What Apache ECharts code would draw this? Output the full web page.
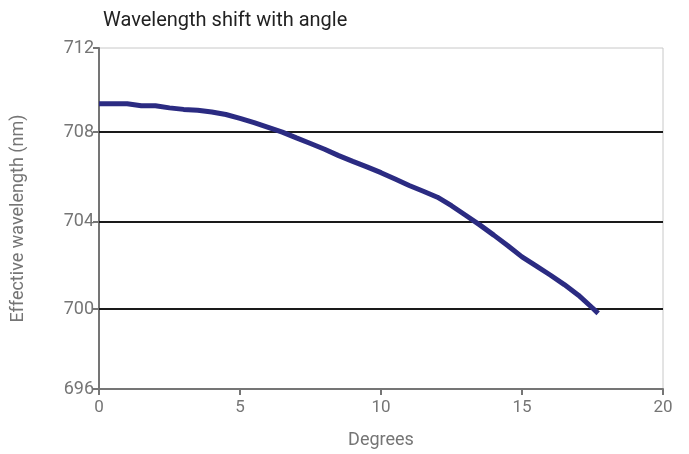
<!DOCTYPE html>
<html>
<head>
<meta charset="utf-8">
<script src="https://cdn.jsdelivr.net/npm/echarts@6/dist/echarts.min.js"></script>
<style>html,body{margin:0;padding:0;background:#fff}#c{width:689px;height:454px}</style>
</head>
<body>
<div id="c"></div>
<script>
var degrees = [0, 0.5, 1, 1.5, 2, 2.5, 3, 3.5, 4, 4.5, 5, 5.5, 6, 6.5, 7, 7.5, 8, 8.5, 9, 9.5, 10, 10.5, 11, 11.5, 12, 12.5, 13, 13.5, 14, 14.5, 15, 15.5, 16, 16.5, 17, 17.5, 17.7];
var wavelength = [709.38, 709.38, 709.38, 709.29, 709.29, 709.19, 709.12, 709.08, 709.0, 708.88, 708.7, 708.5, 708.28, 708.05, 707.78, 707.52, 707.25, 706.95, 706.68, 706.42, 706.15, 705.85, 705.55, 705.28, 705.0, 704.6, 704.15, 703.7, 703.22, 702.72, 702.2, 701.78, 701.35, 700.9, 700.4, 699.8, 699.55];
var yTickValues = [696, 699.75, 703.86, 708.05, 712];
var yTickLabels = ['696', '700', '704', '708', '712'];
var gridValues = [699.75, 703.86, 708.05];

var chart = echarts.init(document.getElementById('c'), null, {renderer: 'canvas'});
var font = 'Roboto';
chart.setOption({
  animation: false,
  title: {
    text: 'Wavelength shift with angle',
    left: 98, top: 6,
    textStyle: {fontFamily: font, fontSize: 20, fontWeight: 'normal', color: '#222'}
  },
  grid: {left: 99, right: 26, top: 48, bottom: 64, show: true, borderColor: '#c8c8c8', borderWidth: 1},
  xAxis: {
    type: 'value', min: 0, max: 20, interval: 5,
    name: 'Degrees', nameLocation: 'middle', nameGap: 42,
    nameTextStyle: {fontFamily: font, fontSize: 18, color: '#757575'},
    axisLine: {show: true, lineStyle: {color: '#757575', width: 2}},
    axisTick: {show: true, length: 6, lineStyle: {color: '#757575', width: 2}},
    axisLabel: {fontFamily: font, fontSize: 17, color: '#757575', margin: 10},
    splitLine: {show: false}
  },
  yAxis: {
    type: 'value', min: 696, max: 712,
    name: 'Effective wavelength (nm)', nameLocation: 'middle', nameGap: 72,
    nameTextStyle: {fontFamily: font, fontSize: 18, color: '#757575'},
    axisLine: {show: true, lineStyle: {color: '#757575', width: 2}},
    axisTick: {show: true, length: 6, customValues: yTickValues, lineStyle: {color: '#757575', width: 2}},
    axisLabel: {
      fontFamily: font, fontSize: 18, color: '#757575', margin: 5,
      customValues: yTickValues,
      formatter: function (v) {
        var best = 0, bd = Infinity;
        for (var i = 0; i < yTickValues.length; i++) {
          var d = Math.abs(yTickValues[i] - v);
          if (d < bd) { bd = d; best = i; }
        }
        return yTickLabels[best];
      }
    },
    splitLine: {show: false}
  },
  series: [{
    type: 'line',
    data: degrees.map(function (d, i) { return [d, wavelength[i]]; }),
    showSymbol: false,
    lineStyle: {color: '#2b2b82', width: 5},
    itemStyle: {color: '#2b2b82'},
    z: 3,
    markLine: {
      silent: true, symbol: 'none', label: {show: false},
      lineStyle: {color: '#1a1a1a', width: 2, type: 'solid'},
      data: gridValues.map(function (v) { return {yAxis: v}; }),
      z: 2
    }
  }]
});
</script>
</body>
</html>
